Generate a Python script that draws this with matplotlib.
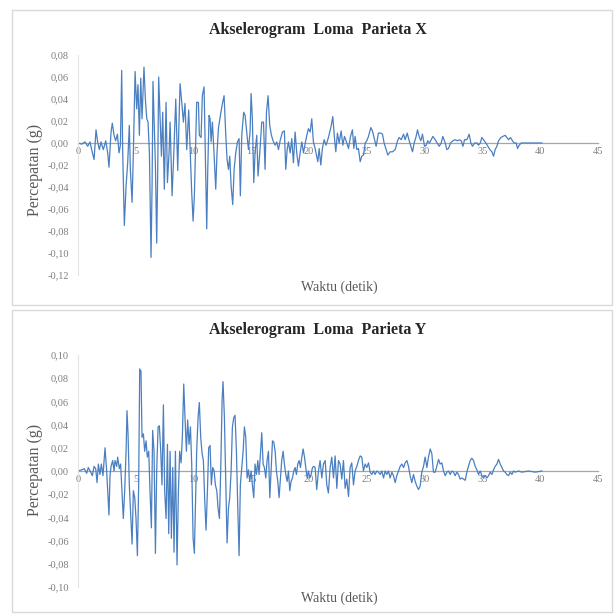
"""Loma Prieta accelerograms (X and Y components), two stacked Excel-style panels."""
import matplotlib
matplotlib.use("Agg")
import matplotlib.pyplot as plt
from matplotlib.patches import Rectangle

plt.rcParams.update({"font.family": "Liberation Serif", "axes.grid": False})

# --- digitised records: time (s), acceleration (g) --------------------------
t_x = [0.00, 0.32, 0.61, 0.84, 1.04, 1.18, 1.39, 1.56, 1.70, 1.85, 1.99, 2.19, 2.40, 2.57,
       2.68, 2.86, 2.97, 3.12, 3.26, 3.41, 3.55, 3.67, 3.78, 3.87, 4.01, 4.16, 4.30, 4.44,
       4.53, 4.68, 4.79, 4.94, 5.08, 5.19, 5.31, 5.43, 5.54, 5.71, 5.83, 5.95, 6.06, 6.18,
       6.32, 6.41, 6.49, 6.61, 6.70, 6.81, 6.90, 6.98, 7.10, 7.22, 7.33, 7.47, 7.62, 7.74,
       7.88, 7.97, 8.14, 8.28, 8.46, 8.63, 8.83, 8.98, 9.12, 9.26, 9.41, 9.58, 9.73, 9.84,
       9.96, 10.07, 10.27, 10.42, 10.50, 10.65, 10.76, 10.91, 11.02, 11.14, 11.23, 11.34,
       11.43, 11.52, 11.63, 11.77, 11.92, 12.03, 12.15, 12.32, 12.50, 12.64, 12.79, 12.90,
       13.02, 13.13, 13.25, 13.39, 13.51, 13.65, 13.80, 13.94, 14.05, 14.17, 14.34, 14.46,
       14.60, 14.75, 14.89, 14.98, 15.09, 15.21, 15.32, 15.47, 15.58, 15.73, 15.90, 16.05,
       16.19, 16.31, 16.45, 16.59, 16.74, 16.88, 17.06, 17.20, 17.35, 17.49, 17.69, 17.86,
       17.98, 18.10, 18.21, 18.36, 18.50, 18.64, 18.79, 18.93, 19.08, 19.22, 19.37, 19.51,
       19.65, 19.80, 19.94, 20.09, 20.23, 20.37, 20.52, 20.75, 20.87, 21.01, 21.15, 21.30,
       21.47, 21.67, 21.88, 22.05, 22.19, 22.31, 22.45, 22.60, 22.77, 22.92, 23.06, 23.20,
       23.41, 23.58, 23.75, 23.87, 23.98, 24.13, 24.27, 24.42, 24.56, 24.71, 24.85, 24.99,
       25.14, 25.34, 25.48, 25.66, 25.80, 26.00, 26.21, 26.35, 26.49, 26.64, 26.81, 27.01,
       27.22, 27.45, 27.65, 27.79, 27.97, 28.17, 28.31, 28.49, 28.66, 28.80, 28.95, 29.09,
       29.24, 29.38, 29.52, 29.67, 29.81, 29.99, 30.13, 30.27, 30.42, 30.56, 30.71, 30.91,
       31.08, 31.26, 31.43, 31.57, 31.78, 31.92, 32.06, 32.24, 32.44, 32.64, 32.84, 33.02,
       33.16, 33.31, 33.45, 33.65, 33.85, 34.00, 34.14, 34.32, 34.52, 34.66, 34.81, 34.95,
       35.09, 35.30, 35.47, 35.64, 35.82, 35.96, 36.10, 36.25, 36.39, 36.60, 36.77, 36.97,
       37.11, 37.26, 37.43, 37.60, 37.75, 37.92, 38.04, 38.18, 38.36, 38.56, 38.99, 39.57,
       40.14]
acc_x = [0.000, -0.001, 0.001, -0.003, 0.001, -0.006, -0.015, 0.012, 0.001, -0.006, 0.001,
         -0.006, 0.002, -0.009, -0.022, 0.010, 0.018, 0.007, 0.002, 0.008, -0.009, -0.002,
         0.066, -0.009, -0.075, -0.039, -0.018, 0.016, -0.024, -0.054, -0.009, 0.065, 0.031,
         0.053, 0.007, 0.059, 0.022, 0.069, 0.040, 0.022, 0.019, -0.009, -0.104, -0.039,
         0.056, 0.010, -0.021, -0.091, -0.024, 0.060, 0.025, -0.012, 0.028, -0.042, 0.037,
         -0.036, -0.009, 0.019, -0.048, -0.012, 0.040, -0.025, 0.054, 0.037, 0.019, 0.036,
         -0.006, 0.030, -0.012, -0.045, -0.071, -0.048, 0.037, 0.037, 0.007, 0.005, 0.043,
         0.051, -0.010, -0.078, -0.024, 0.025, 0.022, 0.001, 0.019, -0.009, -0.042, -0.009,
         0.013, 0.025, 0.036, 0.043, 0.007, -0.015, -0.024, -0.012, -0.039, -0.056, -0.024,
         -0.009, 0.001, 0.004, -0.048, 0.007, 0.028, 0.025, 0.010, -0.006, 0.010, 0.045,
         0.022, -0.036, -0.009, 0.007, -0.030, -0.009, 0.019, 0.019, -0.024, 0.028, 0.043,
         0.016, 0.007, 0.002, -0.002, 0.001, -0.006, 0.002, 0.010, 0.011, -0.024, -0.006,
         0.001, -0.009, 0.004, -0.018, 0.010, -0.009, -0.021, -0.009, 0.001, -0.009, -0.001,
         0.007, 0.013, 0.010, 0.022, 0.001, -0.005, -0.017, -0.005, -0.020, -0.005, 0.003,
         -0.002, 0.005, 0.014, 0.024, 0.005, -0.008, 0.009, 0.000, 0.011, -0.002, 0.006,
         0.002, -0.005, 0.006, 0.012, -0.005, 0.006, -0.006, -0.005, -0.017, -0.012, -0.011,
         0.000, 0.002, 0.006, 0.014, 0.011, 0.003, -0.003, 0.009, 0.009, 0.008, 0.000,
         -0.005, -0.011, -0.008, -0.008, -0.006, 0.002, 0.005, 0.003, 0.008, 0.003, 0.009,
         0.002, -0.003, -0.008, 0.000, 0.005, 0.012, 0.006, 0.002, 0.008, -0.003, -0.002,
         0.002, 0.000, 0.003, 0.006, 0.003, 0.000, -0.003, 0.000, 0.006, 0.000, -0.006,
         -0.005, 0.000, 0.002, 0.003, 0.002, 0.003, 0.002, -0.003, 0.003, 0.003, 0.008,
         0.000, -0.003, 0.000, 0.000, -0.002, 0.000, 0.005, 0.003, 0.000, -0.003, -0.006,
         -0.008, -0.012, -0.006, -0.003, 0.002, 0.005, 0.006, 0.007, 0.005, 0.003, 0.005,
         0.002, 0.000, 0.000, -0.005, -0.002, 0.000, 0.000, 0.000, 0.000, 0.000]

t_y = [0.00, 0.32, 0.55, 0.75, 0.89, 1.10, 1.24, 1.39, 1.53, 1.65, 1.76, 1.90, 2.02, 2.16,
       2.34, 2.48, 2.60, 2.68, 2.77, 2.86, 3.00, 3.12, 3.20, 3.35, 3.43, 3.58, 3.69, 3.81,
       3.92, 4.04, 4.16, 4.24, 4.33, 4.44, 4.56, 4.68, 4.79, 4.91, 5.02, 5.14, 5.25, 5.34,
       5.45, 5.54, 5.66, 5.77, 5.89, 6.00, 6.12, 6.23, 6.35, 6.46, 6.58, 6.70, 6.81, 6.93,
       7.04, 7.16, 7.27, 7.39, 7.50, 7.62, 7.74, 7.85, 7.97, 8.08, 8.20, 8.31, 8.43, 8.57,
       8.69, 8.80, 8.92, 9.03, 9.15, 9.26, 9.38, 9.49, 9.61, 9.73, 9.84, 9.96, 10.07, 10.27,
       10.39, 10.50, 10.62, 10.74, 10.85, 10.97, 11.08, 11.20, 11.31, 11.43, 11.54, 11.66,
       11.78, 11.89, 12.01, 12.12, 12.24, 12.35, 12.47, 12.55, 12.67, 12.79, 12.90, 13.02,
       13.13, 13.25, 13.36, 13.48, 13.59, 13.71, 13.82, 13.94, 14.05, 14.17, 14.29, 14.40,
       14.52, 14.63, 14.75, 14.86, 14.98, 15.09, 15.21, 15.32, 15.44, 15.56, 15.67, 15.79,
       15.90, 16.02, 16.13, 16.25, 16.36, 16.48, 16.60, 16.71, 16.83, 16.94, 17.06, 17.17,
       17.29, 17.40, 17.52, 17.63, 17.75, 17.86, 17.98, 18.10, 18.21, 18.33, 18.44, 18.56,
       18.67, 18.79, 18.90, 19.02, 19.14, 19.25, 19.37, 19.48, 19.60, 19.71, 19.83, 19.94,
       20.06, 20.17, 20.29, 20.40, 20.52, 20.66, 20.81, 20.95, 21.10, 21.24, 21.39, 21.53,
       21.67, 21.82, 21.96, 22.11, 22.25, 22.40, 22.54, 22.68, 22.83, 22.97, 23.12, 23.26,
       23.41, 23.55, 23.69, 23.84, 23.98, 24.13, 24.27, 24.42, 24.56, 24.70, 24.85, 24.99,
       25.14, 25.28, 25.43, 25.57, 25.71, 25.86, 26.00, 26.15, 26.29, 26.44, 26.58, 26.72,
       26.87, 27.01, 27.16, 27.30, 27.45, 27.59, 27.74, 27.88, 28.02, 28.17, 28.31, 28.46,
       28.60, 28.74, 28.89, 29.03, 29.18, 29.32, 29.47, 29.61, 29.75, 29.90, 30.04, 30.19,
       30.33, 30.48, 30.62, 30.76, 30.91, 31.05, 31.20, 31.34, 31.49, 31.63, 31.78, 31.92,
       32.06, 32.21, 32.35, 32.50, 32.64, 32.79, 32.93, 33.07, 33.22, 33.36, 33.51, 33.65,
       33.79, 33.94, 34.08, 34.23, 34.37, 34.52, 34.66, 34.81, 34.95, 35.09, 35.24, 35.38,
       35.53, 35.67, 35.82, 35.96, 36.10, 36.25, 36.39, 36.54, 36.68, 36.83, 36.97, 37.11,
       37.26, 37.40, 37.55, 37.69, 37.84, 38.12, 38.41, 38.99, 39.57, 40.14]
acc_y = [0.000, 0.001, 0.002, -0.002, 0.003, -0.001, -0.004, 0.004, 0.002, -0.010, 0.006,
         -0.003, 0.006, -0.004, 0.020, 0.000, -0.023, -0.038, -0.004, 0.004, 0.009, 0.000,
         0.009, 0.004, 0.012, 0.002, 0.006, -0.019, -0.041, -0.017, 0.017, 0.052, 0.032,
         -0.012, -0.038, -0.063, -0.017, -0.023, -0.041, -0.073, -0.012, 0.088, 0.086, 0.029,
         0.032, 0.017, 0.026, 0.012, 0.017, -0.017, -0.049, 0.035, 0.017, -0.071, 0.000,
         0.038, 0.039, 0.017, -0.012, 0.057, -0.017, -0.041, 0.023, -0.054, 0.017, -0.058,
         0.003, -0.070, 0.017, -0.081, -0.017, 0.017, 0.007, 0.029, 0.075, 0.046, 0.017,
         0.044, 0.023, 0.038, 0.006, -0.058, -0.071, 0.017, 0.046, 0.059, 0.029, 0.015,
         0.009, -0.026, -0.051, -0.017, 0.020, 0.022, -0.012, 0.003, 0.000, -0.012, -0.017,
         -0.032, -0.041, 0.000, 0.061, 0.077, 0.046, -0.012, -0.062, -0.032, -0.023, 0.000,
         0.038, 0.046, 0.048, 0.017, -0.029, -0.073, -0.012, 0.003, 0.017, 0.038, 0.029,
         -0.006, 0.001, -0.009, 0.000, -0.012, -0.023, 0.006, -0.003, 0.009, -0.003, 0.015,
         0.033, 0.006, 0.003, -0.006, 0.009, 0.017, -0.023, 0.000, 0.026, 0.025, 0.017,
         0.000, -0.009, -0.023, -0.006, 0.009, 0.017, 0.006, -0.003, -0.009, 0.000, -0.017,
         -0.009, -0.006, 0.000, 0.003, -0.003, 0.006, 0.009, 0.003, 0.012, 0.019, 0.012,
         0.003, -0.006, 0.000, -0.006, -0.003, 0.003, 0.004, 0.003, -0.016, 0.000, 0.009,
         -0.006, 0.006, 0.009, -0.012, -0.019, 0.003, 0.012, -0.006, 0.013, -0.015, 0.009,
         0.006, -0.007, 0.009, -0.015, -0.007, -0.022, 0.003, 0.007, -0.012, 0.000, 0.004,
         0.009, 0.013, 0.012, 0.000, 0.006, 0.003, 0.007, -0.001, -0.003, 0.000, -0.003,
         0.000, -0.001, -0.003, 0.000, -0.006, 0.000, -0.003, 0.000, -0.006, -0.001, -0.004,
         -0.010, -0.004, 0.000, 0.004, 0.006, 0.003, 0.007, 0.009, 0.004, -0.004, -0.010,
         -0.003, -0.009, -0.013, -0.016, -0.013, -0.001, 0.004, 0.012, 0.003, 0.012, 0.019,
         0.015, -0.001, -0.001, 0.004, 0.010, 0.006, 0.007, 0.000, -0.004, -0.001, 0.000,
         -0.003, 0.000, -0.001, -0.004, -0.001, -0.003, -0.007, -0.006, -0.007, -0.008,
         -0.001, 0.004, 0.009, 0.011, 0.009, 0.004, 0.001, -0.003, 0.000, -0.004, -0.006,
         -0.004, -0.006, -0.004, -0.001, -0.003, 0.001, 0.004, 0.006, 0.010, 0.006, 0.003,
         0.000, -0.001, -0.003, -0.004, -0.001, -0.003, 0.000, -0.001, 0.000, -0.001, 0.000,
         -0.001, 0.000]

x_ticks = [0, 5, 10, 15, 20, 25, 30, 35, 40, 45]
y_ticks_x = [-0.12, -0.10, -0.08, -0.06, -0.04, -0.02, 0.00, 0.02, 0.04, 0.06, 0.08]
y_ticks_y = [-0.10, -0.08, -0.06, -0.04, -0.02, 0.00, 0.02, 0.04, 0.06, 0.08, 0.10]
titles = ["Akselerogram  Loma  Parieta X", "Akselerogram  Loma  Parieta Y"]
x_label = "Waktu (detik)"
y_label = "Percepatan (g)"

LINE = "#4a7fc1"
TXT = "#595959"
W, H = 616, 615


def _fx(px):
    return px / W


def _fy(py):
    return 1 - py / H


def panel(fig, box, ax_px, t, acc, yticks, title, title_y, xlabel_y, ylab_y):
    x0, y0, x1, y1 = box
    fig.patches.append(Rectangle((_fx(x0), _fy(y1)), _fx(x1 - x0), (y1 - y0) / H,
                                 transform=fig.transFigure, fill=False,
                                 ec="#d9d9d9", lw=1.0))
    l, t_, r, b = ax_px
    ax = fig.add_axes([_fx(l), _fy(b), _fx(r - l), (b - t_) / H])
    ax.plot(t, acc, color=LINE, lw=0.9)
    ax.set_xlim(0, 45)
    ax.set_ylim(yticks[0], yticks[-1])
    ax.set_xticks(x_ticks)
    ax.set_xticklabels([str(v) for v in x_ticks])
    ax.set_yticks(yticks)
    ax.set_yticklabels([f"{v:.2f}".replace(".", ",").replace("-0,00", "0,00") for v in yticks])
    for s in ("top", "right"):
        ax.spines[s].set_visible(False)
    ax.spines["bottom"].set_position(("data", 0))
    ax.spines["bottom"].set_color("#a6a6a6")
    ax.spines["bottom"].set_linewidth(0.9)
    ax.spines["bottom"].set_zorder(1)
    ax.spines["left"].set_color("#e3e3e3")
    ax.spines["left"].set_linewidth(0.8)
    ax.tick_params(length=0, labelsize=7.5, labelcolor="#7f7f7f")
    ax.tick_params(axis="x", pad=3)
    ax.tick_params(axis="y", pad=6.5)
    ax.set_ylabel(y_label, fontsize=11.5, color=TXT)
    ax.yaxis.set_label_coords(-0.068, ylab_y)
    fig.text(0.516, _fy(title_y), title, ha="center", va="center",
             fontsize=11.5, fontweight="bold", color="#262626")
    fig.text(_fx(339), _fy(xlabel_y), x_label, ha="center", va="center",
             fontsize=10, color=TXT)
    return ax


fig = plt.figure(figsize=(W / 100, H / 100), dpi=100)
panel(fig, (12, 10, 612, 305), (78, 55, 598, 275), t_x, acc_x, y_ticks_x,
      titles[0], 30, 287, 0.477)
panel(fig, (12, 310, 612, 612), (78, 355, 598, 587), t_y, acc_y, y_ticks_y,
      titles[1], 330, 598, 0.504)
fig.savefig("out.png", dpi=100)
